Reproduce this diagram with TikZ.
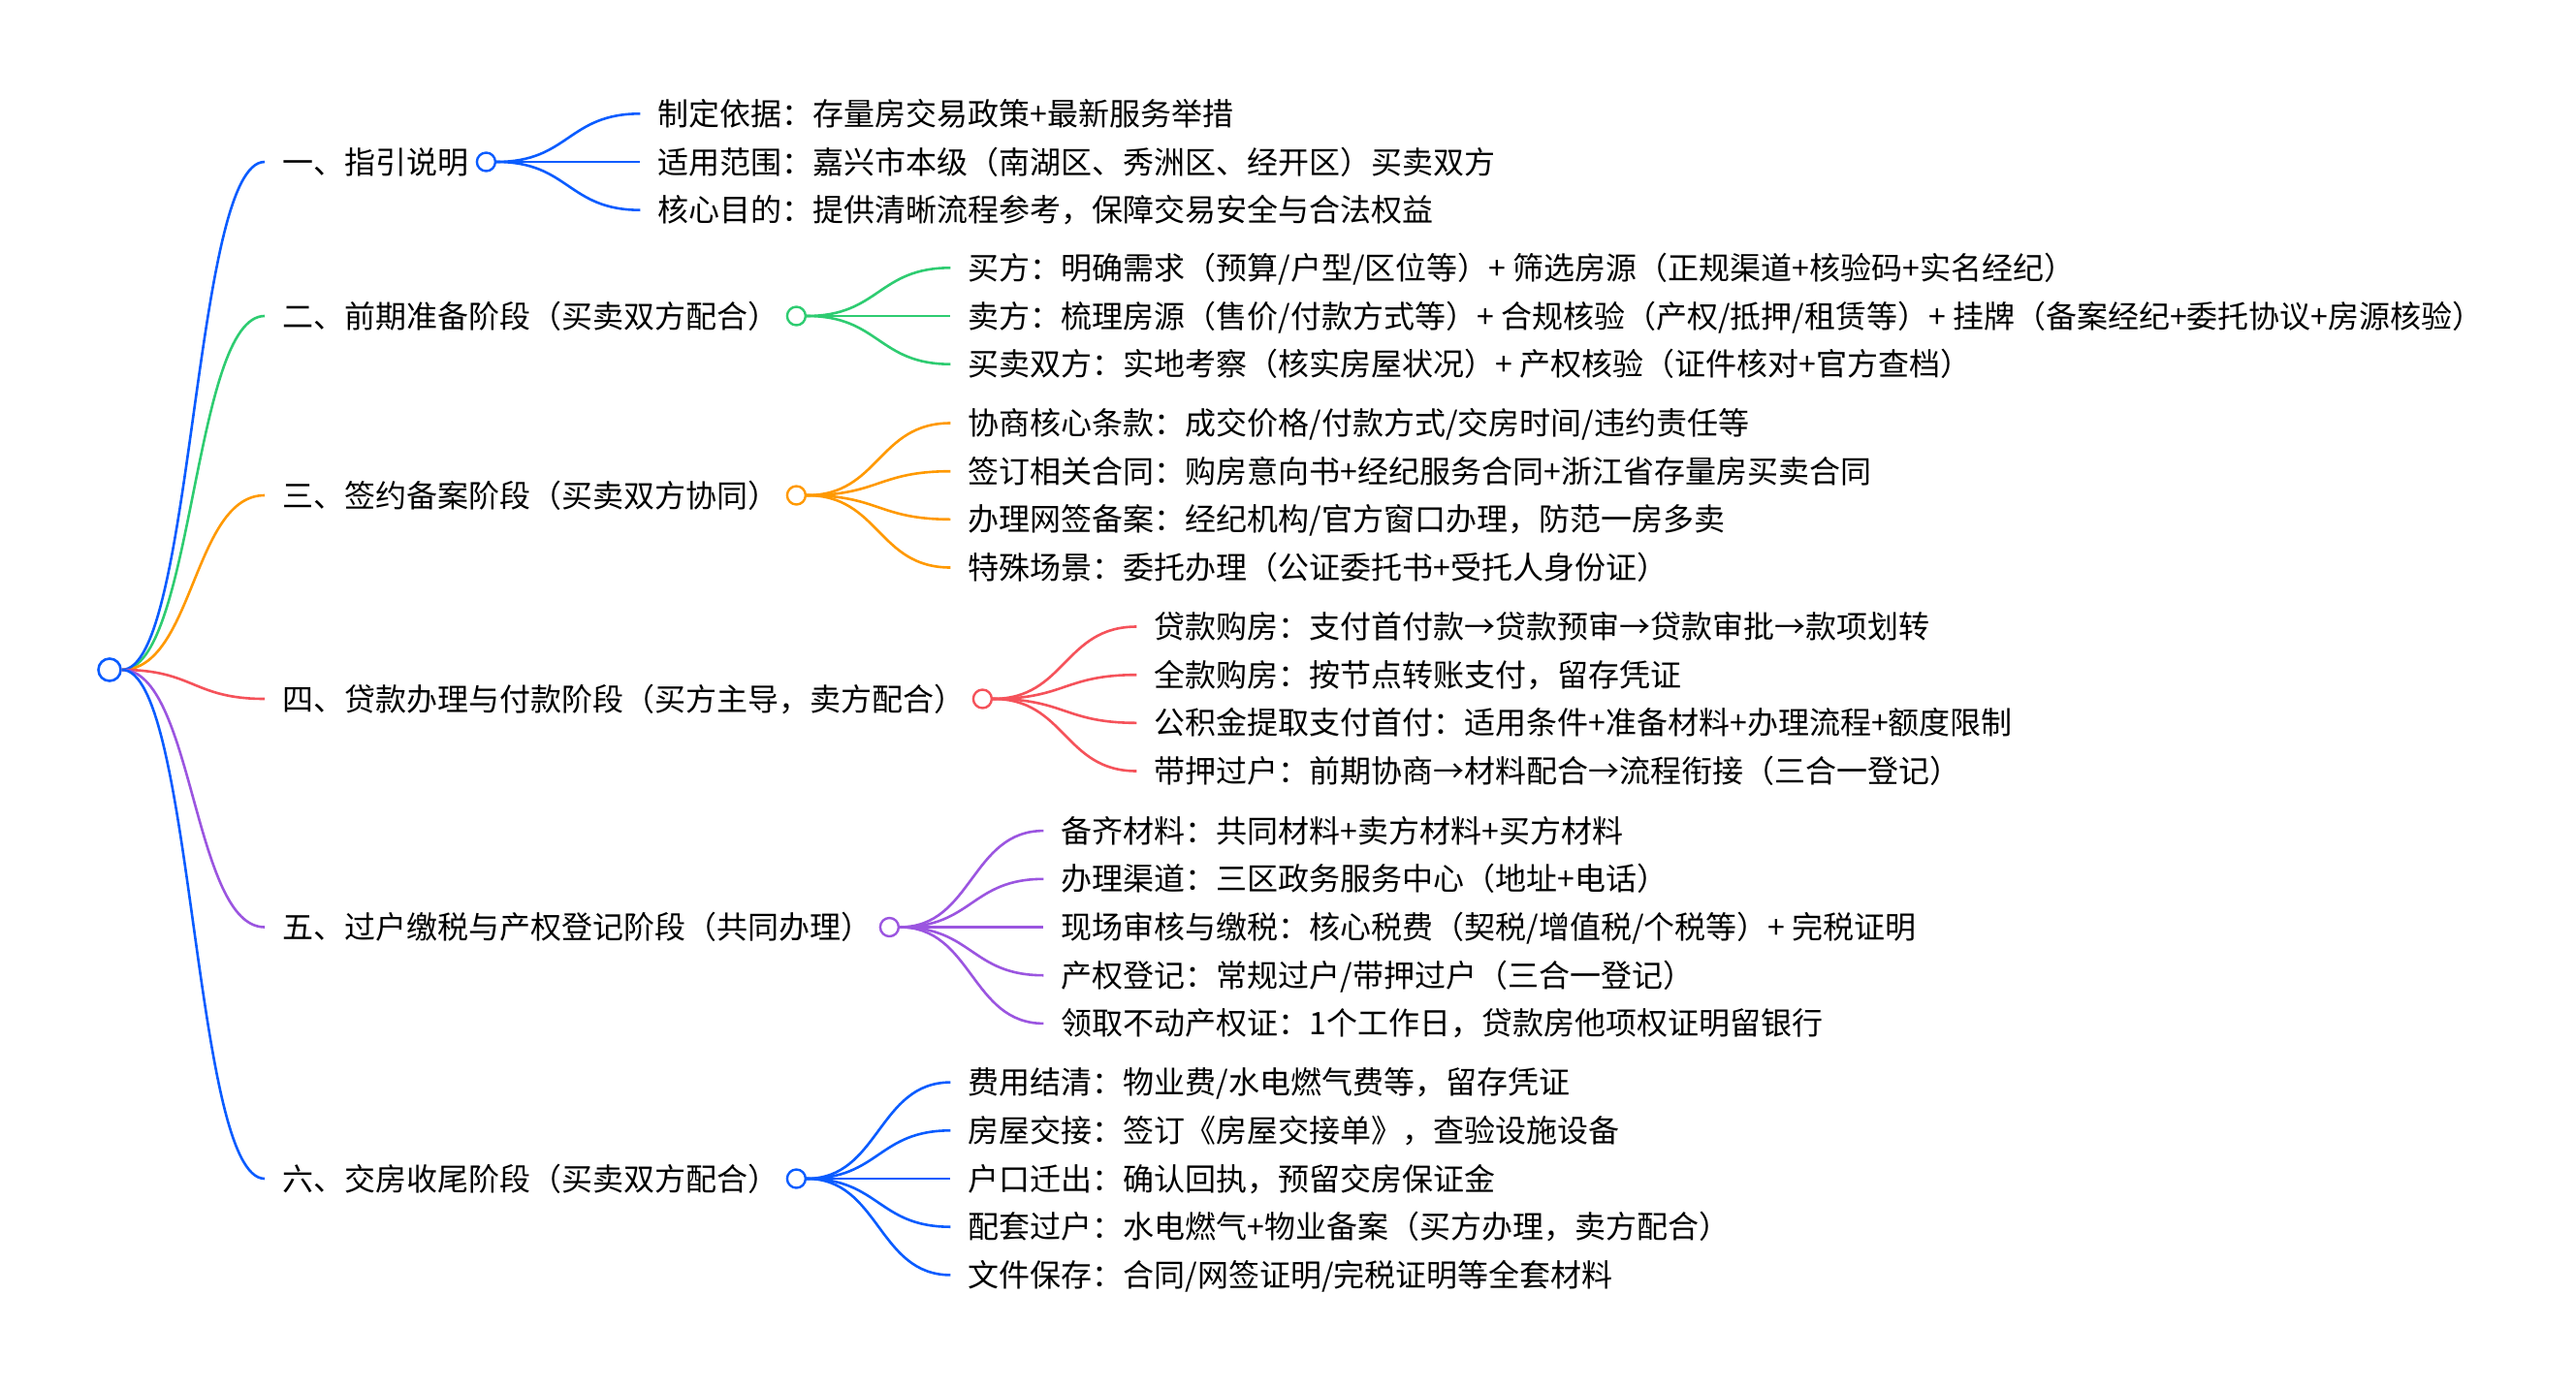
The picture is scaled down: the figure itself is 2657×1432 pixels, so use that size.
\documentclass[tikz,border=0pt]{standalone}
\usepackage{fontspec}
\setmainfont{Noto Sans CJK SC}
\usetikzlibrary{calc}
\definecolor{cblue}{HTML}{0A5CFF}
\definecolor{cgreen}{HTML}{2ECC71}
\definecolor{corange}{HTML}{FF9900}
\definecolor{cred}{HTML}{F5525A}
\definecolor{cpurple}{HTML}{9B55E0}
\newcommand\myfs{\fontsize{32}{38}\selectfont}
\tikzset{
  lbl/.style={anchor=west, inner sep=0pt, font=\myfs, text height=28pt, text depth=4pt},
  dot/.style={circle, fill=white, line width=2.4pt, minimum size=19pt, inner sep=0pt},
  link/.style={line width=2.6pt},
}
\newcommand\kids[3]{% circle name, color, list of offset/text
  \foreach \off/\txt [count=\k] in {#3}{
    \coordinate (#1e\k) at ($(#1.center)+(159,\off)$);
    \node[lbl] (#1t\k) at ($(#1.center)+(177,\off)$) {\txt};
    \draw[link,#2] (#1.east) .. controls +(75,0) and +(-75,0) .. (#1e\k);
  }
}
\begin{document}
\begin{tikzpicture}[x=1pt,y=-1pt]
\useasboundingbox[fill=white] (0,0) rectangle (2657,1432);

\node[dot, draw=cblue, minimum size=23pt, line width=2.6pt] (R) at (113,691) {};

% level labels
\node[lbl] (L1) at (291,167) {一、指引说明};
\node[lbl] (L2) at (291,326) {二、前期准备阶段（买卖双方配合）};
\node[lbl] (L3) at (291,511) {三、签约备案阶段（买卖双方协同）};
\node[lbl] (L4) at (291,721) {四、贷款办理与付款阶段（买方主导，卖方配合）};
\node[lbl] (L5) at (291,956.5) {五、过户缴税与产权登记阶段（共同办理）};
\node[lbl] (L6) at (291,1216) {六、交房收尾阶段（买卖双方配合）};

\foreach \i in {1,...,6}{ \coordinate (P\i) at ($(L\i.west)+(-18,0)$); }

\draw[link,cgreen]  (R.east) .. controls +(74,0) and +(-74,0) .. (P2);
\draw[link,corange] (R.east) .. controls +(74,0) and +(-74,0) .. (P3);
\draw[link,cblue]   (R.east) .. controls +(74,0) and +(-74,0) .. (P1);
\draw[link,cred]    (R.east) .. controls +(74,0) and +(-74,0) .. (P4);
\draw[link,cpurple] (R.east) .. controls +(74,0) and +(-74,0) .. (P5);
\draw[link,cblue]   (R.east) .. controls +(74,0) and +(-74,0) .. (P6);

% level circles
\node[dot, draw=cblue]   (C1) at ($(L1.east)+(18,0)$) {};
\node[dot, draw=cgreen]  (C2) at ($(L2.east)+(18,0)$) {};
\node[dot, draw=corange] (C3) at ($(L3.east)+(18,0)$) {};
\node[dot, draw=cred]    (C4) at ($(L4.east)+(18,0)$) {};
\node[dot, draw=cpurple] (C5) at ($(L5.east)+(18,0)$) {};
\node[dot, draw=cblue]   (C6) at ($(L6.east)+(18,0)$) {};

\kids{C1}{cblue}{-49.7/{制定依据：存量房交易政策+最新服务举措},
  0/{适用范围：嘉兴市本级（南湖区、秀洲区、经开区）买卖双方},
  49.7/{核心目的：提供清晰流程参考，保障交易安全与合法权益}}

\kids{C2}{cgreen}{-49.7/{买方：明确需求（预算/户型/区位等）+ 筛选房源（正规渠道+核验码+实名经纪）},
  0/{卖方：梳理房源（售价/付款方式等）+ 合规核验（产权/抵押/租赁等）+ 挂牌（备案经纪+委托协议+房源核验）},
  49.7/{买卖双方：实地考察（核实房屋状况）+ 产权核验（证件核对+官方查档）}}

\kids{C3}{corange}{-74.5/{协商核心条款：成交价格/付款方式/交房时间/违约责任等},
  -24.8/{签订相关合同：购房意向书+经纪服务合同+浙江省存量房买卖合同},
  24.8/{办理网签备案：经纪机构/官方窗口办理，防范一房多卖},
  74.5/{特殊场景：委托办理（公证委托书+受托人身份证）}}

\kids{C4}{cred}{-74.5/{贷款购房：支付首付款→贷款预审→贷款审批→款项划转},
  -24.8/{全款购房：按节点转账支付，留存凭证},
  24.8/{公积金提取支付首付：适用条件+准备材料+办理流程+额度限制},
  74.5/{带押过户：前期协商→材料配合→流程衔接（三合一登记）}}

\kids{C5}{cpurple}{-99.4/{备齐材料：共同材料+卖方材料+买方材料},
  -49.7/{办理渠道：三区政务服务中心（地址+电话）},
  0/{现场审核与缴税：核心税费（契税/增值税/个税等）+ 完税证明},
  49.7/{产权登记：常规过户/带押过户（三合一登记）},
  99.4/{领取不动产权证：1个工作日，贷款房他项权证明留银行}}

\kids{C6}{cblue}{-99.4/{费用结清：物业费/水电燃气费等，留存凭证},
  -49.7/{房屋交接：签订《房屋交接单》，查验设施设备},
  0/{户口迁出：确认回执，预留交房保证金},
  49.7/{配套过户：水电燃气+物业备案（买方办理，卖方配合）},
  99.4/{文件保存：合同/网签证明/完税证明等全套材料}}
\end{tikzpicture}
\end{document}
